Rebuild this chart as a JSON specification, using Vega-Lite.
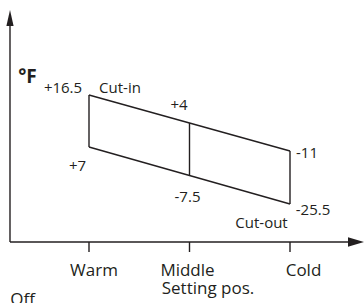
{
  "$schema": "https://vega.github.io/schema/vega-lite/v6.json",
  "width": 364,
  "height": 303,
  "padding": 0,
  "autosize": {"type": "none"},
  "background": "white",
  "config": {"view": {"stroke": null}},
  "datasets": {
    "segments": [
      {"part": "frame", "x": 1, "y": 147, "x2": 3, "y2": 91},
      {"part": "frame", "x": 1, "y": 95, "x2": 3, "y2": 38},
      {"part": "frame", "x": 1, "y": 147, "x2": 1, "y2": 95},
      {"part": "frame", "x": 2, "y": 119, "x2": 2, "y2": 67},
      {"part": "frame", "x": 3, "y": 91, "x2": 3, "y2": 38},
      {"part": "axis", "x": 0.2139, "y": 0, "x2": 0.2139, "y2": 222},
      {"part": "axis", "x": 0.2139, "y": 0, "x2": 3.5964, "y2": 0},
      {"part": "axis", "x": 1, "y": 0, "x2": 1, "y2": -10},
      {"part": "axis", "x": 2, "y": 0, "x2": 2, "y2": -10},
      {"part": "axis", "x": 3, "y": 0, "x2": 3, "y2": -10}
    ],
    "arrows": [
      {"dir": "up", "x": 0.2139, "y": 224},
      {"dir": "right", "x": 3.6567, "y": 0}
    ],
    "labels": [
      {"kind": "unit", "text": "°F", "x": 0.3881, "y": 159},
      {"kind": "value", "text": "+16.5", "x": 0.7413, "y": 149},
      {"kind": "value", "text": "Cut-in", "x": 1.3085, "y": 149},
      {"kind": "value", "text": "+4", "x": 1.8955, "y": 132},
      {"kind": "value", "text": "-11", "x": 3.1692, "y": 84},
      {"kind": "value", "text": "+7", "x": 0.8856, "y": 71},
      {"kind": "value", "text": "-7.5", "x": 1.9801, "y": 40},
      {"kind": "value", "text": "-25.5", "x": 3.2289, "y": 27},
      {"kind": "value", "text": "Cut-out", "x": 2.7164, "y": 14},
      {"kind": "axis", "text": "Warm", "x": 1.0498, "y": -34},
      {"kind": "axis", "text": "Middle", "x": 1.9801, "y": -34},
      {"kind": "axis", "text": "Cold", "x": 3.1343, "y": -34},
      {"kind": "axis", "text": "Setting pos.", "x": 2.1841, "y": -52},
      {"kind": "axis", "text": "Off", "x": 0.3383, "y": -63}
    ]
  },
  "encoding": {
    "x": {"field": "x", "type": "quantitative", "scale": {"domain": [0.11443, 3.73632], "nice": false, "zero": false}, "axis": null},
    "y": {"field": "y", "type": "quantitative", "scale": {"domain": [-61, 242], "nice": false, "zero": false}, "axis": null}
  },
  "layer": [
    {
      "data": {"name": "segments"},
      "mark": {"type": "rule", "color": "#231f20", "strokeWidth": 1.4},
      "encoding": {
        "x2": {"field": "x2"},
        "y2": {"field": "y2"}
      }
    },
    {
      "data": {"name": "arrows"},
      "transform": [{"filter": "datum.dir === 'up'"}],
      "mark": {"type": "point", "filled": true, "color": "#231f20", "opacity": 1, "size": 256, "shape": "M0,-1L0.45,1L-0.45,1Z"},
      "encoding": {}
    },
    {
      "data": {"name": "arrows"},
      "transform": [{"filter": "datum.dir === 'right'"}],
      "mark": {"type": "point", "filled": true, "color": "#231f20", "opacity": 1, "size": 256, "shape": "M1,0L-1,-0.6L-1,0.6Z"},
      "encoding": {}
    },
    {
      "data": {"name": "labels"},
      "transform": [{"filter": "datum.kind === 'unit'"}],
      "mark": {"type": "text", "font": "Open Sans", "fontSize": 19, "fontWeight": "bold", "align": "center", "baseline": "alphabetic", "color": "#231f20"},
      "encoding": {"text": {"field": "text"}}
    },
    {
      "data": {"name": "labels"},
      "transform": [{"filter": "datum.kind === 'value'"}],
      "mark": {"type": "text", "font": "Open Sans", "fontSize": 15, "align": "center", "baseline": "alphabetic", "color": "#231f20"},
      "encoding": {"text": {"field": "text"}}
    },
    {
      "data": {"name": "labels"},
      "transform": [{"filter": "datum.kind === 'axis'"}],
      "mark": {"type": "text", "font": "Open Sans", "fontSize": 17, "align": "center", "baseline": "alphabetic", "color": "#231f20"},
      "encoding": {"text": {"field": "text"}}
    }
  ]
}
